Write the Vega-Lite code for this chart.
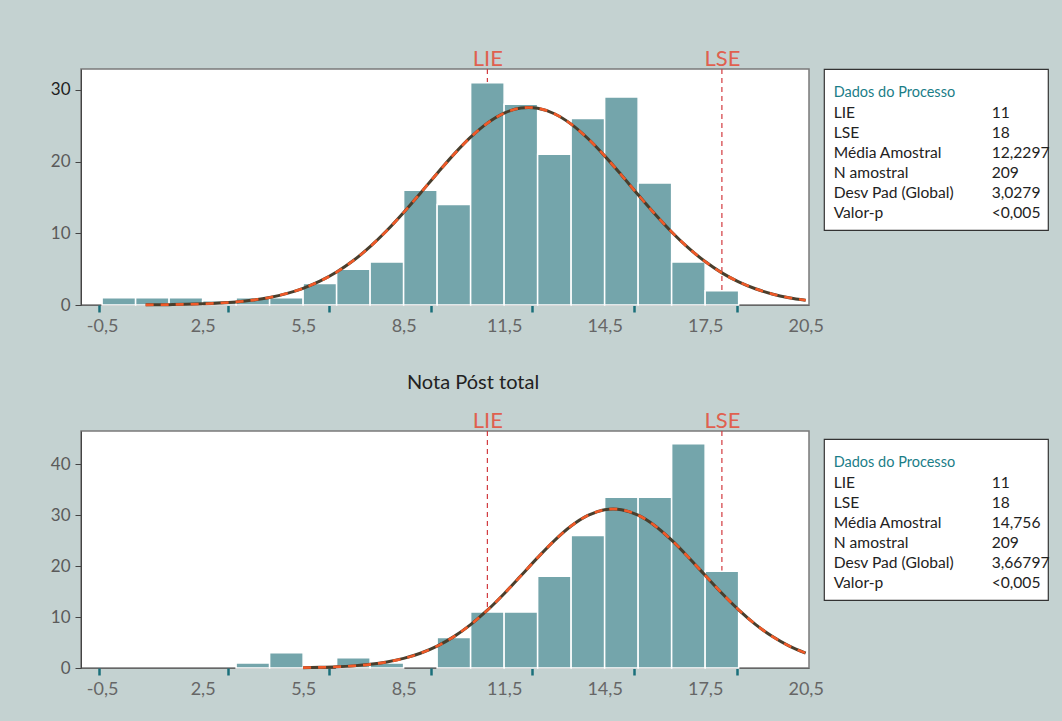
{
  "$schema": "https://vega.github.io/schema/vega-lite/v6.json",
  "background": "#c4d2d1",
  "padding": {"left": 49, "top": 46, "right": 11, "bottom": 22},
  "config": {
    "font": "Lato",
    "axis": {"grid": false, "labelFont": "Lato"},
    "view": {"fill": "white", "stroke": "#7a7a7a", "strokeWidth": 1.5}
  },
  "datasets": {
    "limites": [{"limite": "LIE", "valor": 11}, {"limite": "LSE", "valor": 18}],
    "pre": [
      {"de": -0.5, "ate": 0.5, "contagem": 1},
      {"de": 0.5, "ate": 1.5, "contagem": 1},
      {"de": 1.5, "ate": 2.5, "contagem": 1},
      {"de": 2.5, "ate": 3.5, "contagem": 0.6},
      {"de": 3.5, "ate": 4.5, "contagem": 1},
      {"de": 4.5, "ate": 5.5, "contagem": 1},
      {"de": 5.5, "ate": 6.5, "contagem": 3},
      {"de": 6.5, "ate": 7.5, "contagem": 5},
      {"de": 7.5, "ate": 8.5, "contagem": 6},
      {"de": 8.5, "ate": 9.5, "contagem": 16},
      {"de": 9.5, "ate": 10.5, "contagem": 14},
      {"de": 10.5, "ate": 11.5, "contagem": 31},
      {"de": 11.5, "ate": 12.5, "contagem": 28},
      {"de": 12.5, "ate": 13.5, "contagem": 21},
      {"de": 13.5, "ate": 14.5, "contagem": 26},
      {"de": 14.5, "ate": 15.5, "contagem": 29},
      {"de": 15.5, "ate": 16.5, "contagem": 17},
      {"de": 16.5, "ate": 17.5, "contagem": 6},
      {"de": 17.5, "ate": 18.5, "contagem": 2}
    ],
    "pos": [
      {"de": 3.5, "ate": 4.5, "contagem": 1},
      {"de": 4.5, "ate": 5.5, "contagem": 3},
      {"de": 6.5, "ate": 7.5, "contagem": 2},
      {"de": 7.5, "ate": 8.5, "contagem": 1},
      {"de": 9.5, "ate": 10.5, "contagem": 6},
      {"de": 10.5, "ate": 11.5, "contagem": 11},
      {"de": 11.5, "ate": 12.5, "contagem": 11},
      {"de": 12.5, "ate": 13.5, "contagem": 18},
      {"de": 13.5, "ate": 14.5, "contagem": 26},
      {"de": 14.5, "ate": 15.5, "contagem": 33.5},
      {"de": 15.5, "ate": 16.5, "contagem": 33.5},
      {"de": 16.5, "ate": 17.5, "contagem": 44},
      {"de": 17.5, "ate": 18.5, "contagem": 19}
    ],
    "curvaPre": [
      {"x": 0.8, "y": 0.022}, {"x": 1.5, "y": 0.052}, {"x": 2, "y": 0.092}, {"x": 2.5, "y": 0.158},
      {"x": 3, "y": 0.265}, {"x": 3.5, "y": 0.432}, {"x": 4, "y": 0.685}, {"x": 4.5, "y": 1.059},
      {"x": 5, "y": 1.592}, {"x": 5.5, "y": 2.329}, {"x": 6, "y": 3.317}, {"x": 6.5, "y": 4.596},
      {"x": 7, "y": 6.196}, {"x": 7.5, "y": 8.13}, {"x": 8, "y": 10.38}, {"x": 8.5, "y": 12.896},
      {"x": 9, "y": 15.591}, {"x": 9.5, "y": 18.342}, {"x": 10, "y": 20.998}, {"x": 10.5, "y": 23.391},
      {"x": 11, "y": 25.357}, {"x": 11.5, "y": 26.749}, {"x": 12, "y": 27.458}, {"x": 12.23, "y": 27.537},
      {"x": 12.5, "y": 27.427}, {"x": 13, "y": 26.66}, {"x": 13.5, "y": 25.217}, {"x": 14, "y": 23.211},
      {"x": 14.5, "y": 20.79}, {"x": 15, "y": 18.12}, {"x": 15.5, "y": 15.367}, {"x": 16, "y": 12.684},
      {"x": 16.5, "y": 10.186}, {"x": 17, "y": 7.96}, {"x": 17.5, "y": 6.055}, {"x": 18, "y": 4.48},
      {"x": 18.5, "y": 3.226}, {"x": 19, "y": 2.261}, {"x": 19.5, "y": 1.542}, {"x": 20, "y": 1.023},
      {"x": 20.5, "y": 0.661}
    ],
    "curvaPos": [
      {"x": 5.5, "y": 0.067}, {"x": 6, "y": 0.128}, {"x": 6.5, "y": 0.235}, {"x": 7, "y": 0.417},
      {"x": 7.5, "y": 0.714}, {"x": 8, "y": 1.181}, {"x": 8.5, "y": 1.883}, {"x": 9, "y": 2.897},
      {"x": 9.5, "y": 4.3}, {"x": 10, "y": 6.157}, {"x": 10.5, "y": 8.507}, {"x": 11, "y": 11.34},
      {"x": 11.5, "y": 14.583}, {"x": 12, "y": 18.092}, {"x": 12.5, "y": 21.656}, {"x": 13, "y": 25.008},
      {"x": 13.5, "y": 27.861}, {"x": 14, "y": 29.947}, {"x": 14.5, "y": 31.054}, {"x": 14.756, "y": 31.2},
      {"x": 15, "y": 31.067}, {"x": 15.5, "y": 29.985}, {"x": 16, "y": 27.921}, {"x": 16.5, "y": 25.084},
      {"x": 17, "y": 21.74}, {"x": 17.5, "y": 18.178}, {"x": 18, "y": 14.666}, {"x": 18.5, "y": 11.414},
      {"x": 19, "y": 8.57}, {"x": 19.5, "y": 6.208}, {"x": 20, "y": 4.339}, {"x": 20.5, "y": 2.926}
    ],
    "dadosPre": [
      {"k": "Dados do Processo", "v": ""},
      {"k": "LIE", "v": "11"},
      {"k": "LSE", "v": "18"},
      {"k": "Média Amostral", "v": "12,2297"},
      {"k": "N amostral", "v": "209"},
      {"k": "Desv Pad (Global)", "v": "3,0279"},
      {"k": "Valor-p", "v": "<0,005"}
    ],
    "dadosPos": [
      {"k": "Dados do Processo", "v": ""},
      {"k": "LIE", "v": "11"},
      {"k": "LSE", "v": "18"},
      {"k": "Média Amostral", "v": "14,756"},
      {"k": "N amostral", "v": "209"},
      {"k": "Desv Pad (Global)", "v": "3,66797"},
      {"k": "Valor-p", "v": "<0,005"}
    ]
  },
  "bounds": "flush",
  "columns": 2,
  "spacing": {"row": 126, "column": 15},
  "concat": [
    {
      "width": 728,
      "height": 236,
      "resolve": {"axis": {"x": "independent", "y": "independent"}},
      "layer": [
        {
          "data": {"name": "limites"},
          "mark": {"type": "rule", "color": "#d23a3f", "strokeDash": [5, 4], "strokeWidth": 1.2},
          "encoding": {
            "x": {"field": "valor", "type": "quantitative", "title": null,
              "scale": {"domain": [-1.13, 20.6], "nice": false, "zero": false},
              "axis": {"orient": "top", "values": [11, 18], "labelExpr": "datum.value == 11 ? 'LIE' : 'LSE'",
                "ticks": false, "domain": false, "labelFontSize": 22, "labelColor": "#e0604f",
                "labelPadding": 4, "labelBaseline": "alphabetic"}}
          }
        },
        {
          "data": {"name": "pre"},
          "mark": {"type": "bar", "fill": "#74a5ab", "stroke": "white", "strokeWidth": 1.5},
          "encoding": {
            "x": {"field": "de", "type": "quantitative", "title": null,
              "axis": {"orient": "bottom", "values": [-0.5, 2.5, 5.5, 8.5, 11.5, 14.5, 17.5, 20.5],
                "labelExpr": "replace(toString(datum.value), '.', ',')", "ticks": false, "tickSize": 0,
                "domainColor": "#666", "labelFontSize": 18, "labelColor": "#666",
                "labelPadding": 26, "labelBaseline": "alphabetic"}},
            "x2": {"field": "ate"},
            "y": {"field": "contagem", "type": "quantitative", "title": null,
              "scale": {"domain": [0, 32.9], "nice": false},
              "axis": {"values": [0, 10, 20, 30], "tickSize": 6, "tickColor": "#444", "domainColor": "#444",
                "labelFontSize": 17, "labelPadding": 5,
                "labelColor": {"condition": {"test": "datum.value == 30", "value": "#1e1e1e"}, "value": "#5a5a5a"}}},
            "y2": {"datum": 0}
          }
        },
        {
          "data": {"name": "curvaPre"},
          "mark": {"type": "line", "color": "#4a3e2c", "strokeWidth": 3, "interpolate": "monotone"},
          "encoding": {
            "x": {"field": "x", "type": "quantitative", "title": null,
              "axis": {"orient": "bottom", "values": [-0.59, 3.25, 6.26, 9.32, 12.34, 15.39, 18.45],
                "labels": false, "domain": false, "tickColor": "#1a6f7a", "tickWidth": 2.5, "tickSize": 7}},
            "y": {"field": "y", "type": "quantitative", "axis": null}
          }
        },
        {
          "data": {"name": "curvaPre"},
          "mark": {"type": "line", "color": "#f05a28", "strokeWidth": 2.6, "strokeDash": [8, 7], "interpolate": "monotone"},
          "encoding": {
            "x": {"field": "x", "type": "quantitative", "axis": null},
            "y": {"field": "y", "type": "quantitative", "axis": null}
          }
        }
      ]
    },
    {
      "width": 224,
      "height": 161,
      "view": {"fill": "white", "stroke": "#333", "strokeWidth": 1.2},
      "data": {"name": "dadosPre"},
      "layer": [
        {
          "mark": {"type": "text", "align": "left", "baseline": "alphabetic"},
          "encoding": {
            "x": {"datum": "rótulo", "type": "nominal", "axis": null,
              "scale": {"type": "point", "domain": ["rótulo", "valor"], "padding": 0.2089, "align": 0.147}},
            "y": {"field": "k", "type": "ordinal", "sort": null, "axis": null,
              "scale": {"type": "point", "padding": 1.005, "align": 0.705}},
            "text": {"field": "k"},
            "size": {"condition": {"test": "datum.k === 'Dados do Processo'", "value": 14.5}, "value": 15.6},
            "color": {"condition": {"test": "datum.k === 'Dados do Processo'", "value": "#1a7d87"}, "value": "#222"}
          }
        },
        {
          "mark": {"type": "text", "align": "left", "baseline": "alphabetic", "fontSize": 15.6, "color": "#222"},
          "encoding": {
            "x": {"datum": "valor", "type": "nominal", "axis": null},
            "y": {"field": "k", "type": "ordinal", "sort": null, "axis": null},
            "text": {"field": "v"}
          }
        }
      ]
    },
    {
      "width": 728,
      "height": 237,
      "title": {"text": "Nota Póst total", "fontSize": 20, "color": "#222", "fontWeight": "normal",
        "frame": "group", "dx": 28, "offset": 0, "baseline": "alphabetic"},
      "resolve": {"axis": {"x": "independent", "y": "independent"}},
      "layer": [
        {
          "data": {"name": "limites"},
          "mark": {"type": "rule", "color": "#d23a3f", "strokeDash": [5, 4], "strokeWidth": 1.2},
          "encoding": {
            "x": {"field": "valor", "type": "quantitative", "title": null,
              "scale": {"domain": [-1.13, 20.6], "nice": false, "zero": false},
              "axis": {"orient": "top", "values": [11, 18], "labelExpr": "datum.value == 11 ? 'LIE' : 'LSE'",
                "ticks": false, "domain": false, "labelFontSize": 22, "labelColor": "#e0604f",
                "labelPadding": 4, "labelBaseline": "alphabetic"}}
          }
        },
        {
          "data": {"name": "pos"},
          "mark": {"type": "bar", "fill": "#74a5ab", "stroke": "white", "strokeWidth": 1.5},
          "encoding": {
            "x": {"field": "de", "type": "quantitative", "title": null,
              "axis": {"orient": "bottom", "values": [-0.5, 2.5, 5.5, 8.5, 11.5, 14.5, 17.5, 20.5],
                "labelExpr": "replace(toString(datum.value), '.', ',')", "ticks": false, "tickSize": 0,
                "domainColor": "#666", "labelFontSize": 18, "labelColor": "#666",
                "labelPadding": 26, "labelBaseline": "alphabetic"}},
            "x2": {"field": "ate"},
            "y": {"field": "contagem", "type": "quantitative", "title": null,
              "scale": {"domain": [0, 46.5], "nice": false},
              "axis": {"values": [0, 10, 20, 30, 40], "tickSize": 6, "tickColor": "#444", "domainColor": "#444",
                "labelFontSize": 17, "labelPadding": 5, "labelColor": "#5a5a5a"}},
            "y2": {"datum": 0}
          }
        },
        {
          "data": {"name": "curvaPos"},
          "mark": {"type": "line", "color": "#4a3e2c", "strokeWidth": 3, "interpolate": "monotone"},
          "encoding": {
            "x": {"field": "x", "type": "quantitative", "title": null,
              "axis": {"orient": "bottom", "values": [-0.59, 3.25, 6.26, 9.32, 12.34, 15.39, 18.45],
                "labels": false, "domain": false, "tickColor": "#1a6f7a", "tickWidth": 2.5, "tickSize": 7}},
            "y": {"field": "y", "type": "quantitative", "axis": null}
          }
        },
        {
          "data": {"name": "curvaPos"},
          "mark": {"type": "line", "color": "#f05a28", "strokeWidth": 2.6, "strokeDash": [8, 7], "interpolate": "monotone"},
          "encoding": {
            "x": {"field": "x", "type": "quantitative", "axis": null},
            "y": {"field": "y", "type": "quantitative", "axis": null}
          }
        }
      ]
    },
    {
      "spacing": 6,
      "vconcat": [
        {
          "width": 224,
          "height": 1,
          "view": {"fill": null, "stroke": null},
          "data": {"values": []},
          "mark": {"type": "text"}
        },
        {
          "width": 224,
          "height": 161,
          "view": {"fill": "white", "stroke": "#333", "strokeWidth": 1.2},
          "data": {"name": "dadosPos"},
          "layer": [
            {
              "mark": {"type": "text", "align": "left", "baseline": "alphabetic"},
              "encoding": {
                "x": {"datum": "rótulo", "type": "nominal", "axis": null,
                  "scale": {"type": "point", "domain": ["rótulo", "valor"], "padding": 0.2089, "align": 0.147}},
                "y": {"field": "k", "type": "ordinal", "sort": null, "axis": null,
                  "scale": {"type": "point", "padding": 1.005, "align": 0.705}},
                "text": {"field": "k"},
                "size": {"condition": {"test": "datum.k === 'Dados do Processo'", "value": 14.5}, "value": 15.6},
                "color": {"condition": {"test": "datum.k === 'Dados do Processo'", "value": "#1a7d87"}, "value": "#222"}
              }
            },
            {
              "mark": {"type": "text", "align": "left", "baseline": "alphabetic", "fontSize": 15.6, "color": "#222"},
              "encoding": {
                "x": {"datum": "valor", "type": "nominal", "axis": null},
                "y": {"field": "k", "type": "ordinal", "sort": null, "axis": null},
                "text": {"field": "v"}
              }
            }
          ]
        }
      ]
    }
  ]
}
